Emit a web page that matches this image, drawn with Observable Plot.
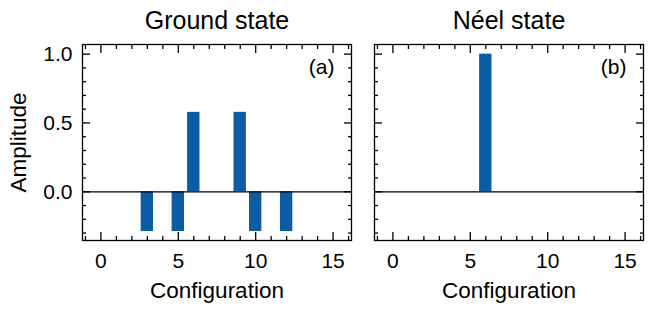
<!DOCTYPE html>
<html>
<head>
<meta charset="utf-8">
<script src="https://cdn.jsdelivr.net/npm/d3@7"></script>
<script src="https://cdn.jsdelivr.net/npm/@observablehq/plot@0.6"></script>
<style>
  html, body { margin: 0; padding: 0; background: #fff; }
</style>
</head>
<body>
<div id="chart"></div>
<script>
const panels = ["Ground state", "Néel state"];
const panelTags = ["(a)", "(b)"];
const configurations = [0, 1, 2, 3, 4, 5, 6, 7, 8, 9, 10, 11, 12, 13, 14, 15];
const groundAmplitude = [0, 0, 0, -0.289, 0, -0.289, 0.577, 0, 0, 0.577, -0.289, 0, -0.289, 0, 0, 0];
const neelAmplitude = [0, 0, 0, 0, 0, 0, 1.0, 0, 0, 0, 0, 0, 0, 0, 0, 0];
const xMajorTicks = [0, 5, 10, 15];
const xMinorTicks = [-1, 1, 2, 3, 4, 6, 7, 8, 9, 11, 12, 13, 14, 16];
const yMajorTicks = [0, 0.5, 1.0];
const yMinorTicks = [-0.3, -0.2, -0.1, 0.1, 0.2, 0.3, 0.4, 0.6, 0.7, 0.8, 0.9];
const barWidth = 0.8;

const rows = [];
configurations.forEach((c, i) => {
  rows.push({panel: panels[0], c, amp: groundAmplitude[i]});
  rows.push({panel: panels[1], c, amp: neelAmplitude[i]});
});
const tags = panels.map((p, i) => ({panel: p, tag: panelTags[i]}));

const blue = "#0C5DA5";
const major = 8, minor = 4, sw = 1.3;

const tickSet = (ticks, size) => [
  Plot.axisX(ticks, {anchor: "bottom", tickSize: -size, text: null, label: null, strokeWidth: sw}),
  Plot.axisX(ticks, {anchor: "top", tickSize: -size, text: null, label: null, strokeWidth: sw})
];
const tickSetY = (ticks, size) => [
  Plot.axisY(ticks, {anchor: "left", tickSize: -size, text: null, label: null, strokeWidth: sw, facetAnchor: null}),
  Plot.axisY(ticks, {anchor: "right", tickSize: -size, text: null, label: null, strokeWidth: sw, facetAnchor: null})
];

const chart = Plot.plot({
  width: 652,
  height: 312,
  marginTop: 44,
  marginBottom: 72,
  marginLeft: 82,
  marginRight: 9,
  style: {fontFamily: "'Liberation Sans', Arial, Helvetica, sans-serif", fontSize: "21px", color: "black", background: "white"},
  fx: {domain: panels, paddingInner: 0.0788, paddingOuter: 0},
  x: {domain: [-1.19, 16.19]},
  y: {domain: [-0.354, 1.07]},
  marks: [
    Plot.rectY(rows, {fx: "panel", x1: d => d.c - barWidth / 2, x2: d => d.c + barWidth / 2, y1: 0, y2: "amp", fill: blue}),
    Plot.ruleY([0], {stroke: "black", strokeWidth: sw}),
    Plot.frame({stroke: "black", strokeWidth: sw}),
    ...tickSet(xMajorTicks, major),
    ...tickSet(xMinorTicks, minor),
    ...tickSetY(yMajorTicks, major),
    ...tickSetY(yMinorTicks, minor),
    Plot.axisX(xMajorTicks, {anchor: "bottom", tickSize: 0, tickPadding: 13, label: null, fontSize: 21}),
    Plot.axisY(yMajorTicks, {anchor: "left", tickSize: 0, tickPadding: 10, label: null, tickFormat: d3.format(".1f"), fontSize: 21}),
    Plot.axisFx({anchor: "top", tickSize: 0, tickPadding: 16, label: null, fontSize: 25}),
    Plot.text(tags, {fx: "panel", text: () => "Configuration", frameAnchor: "bottom", dy: 57, lineAnchor: "bottom", textAnchor: "middle", fontSize: 22.5}),
    Plot.text(tags, {fx: "panel", text: "tag", frameAnchor: "top-right", dx: -17, dy: 29, lineAnchor: "bottom", textAnchor: "end", fontSize: 21}),
    Plot.text(["Amplitude"], {fx: [panels[0]], frameAnchor: "left", dx: -64, rotate: -90, textAnchor: "middle", lineAnchor: "middle", fontSize: 22.5})
  ]
});
document.getElementById("chart").appendChild(chart);
</script>
</body>
</html>
